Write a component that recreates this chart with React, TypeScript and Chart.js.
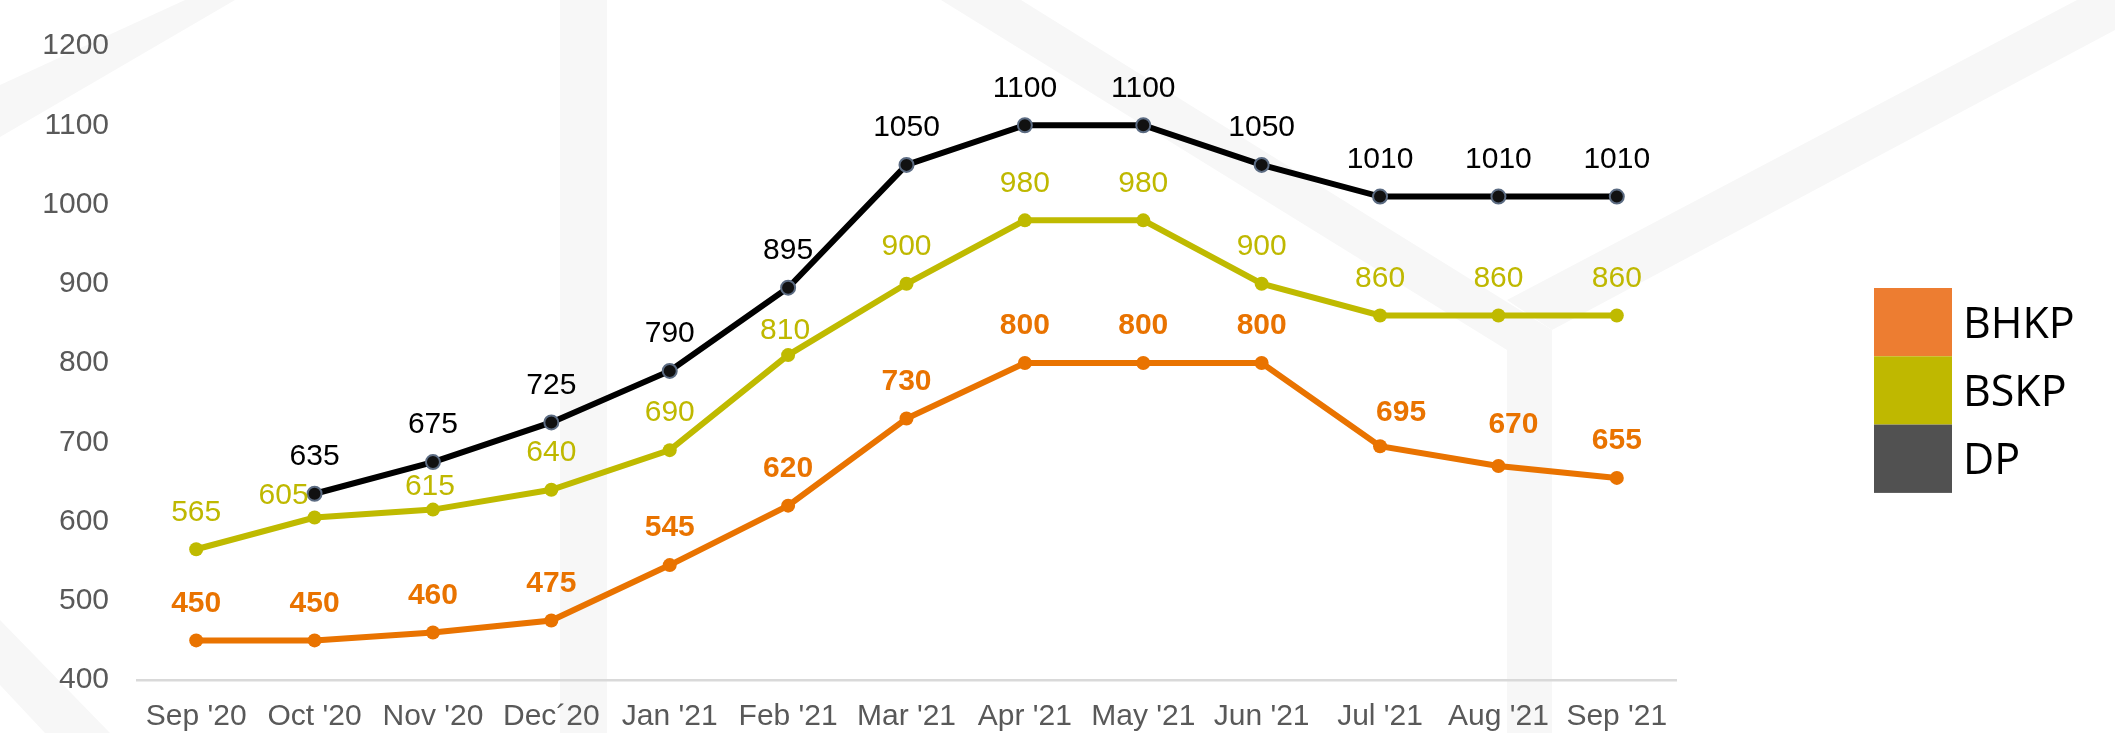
import React, { useEffect, useRef } from "react";
import { Chart, registerables } from "chart.js";

Chart.register(...registerables);

// ---- data ----
const categories = ["Sep '20", "Oct '20", "Nov '20", "Dec´20", "Jan '21", "Feb '21", "Mar '21", "Apr '21", "May '21", "Jun '21", "Jul '21", "Aug '21", "Sep '21"];
const bhkpValues = [450, 450, 460, 475, 545, 620, 730, 800, 800, 800, 695, 670, 655];
const bskpValues = [565, 605, 615, 640, 690, 810, 900, 980, 980, 900, 860, 860, 860];
const dpValues = [null, 635, 675, 725, 790, 895, 1050, 1100, 1100, 1050, 1010, 1010, 1010];
const seriesNames = ["BHKP", "BSKP", "DP"];
const yMin = 400;
const yMax = 1200;
const yStep = 100;

// ---- styles ----
const FONT = "'Liberation Sans', Arial, Helvetica, sans-serif";
const legendColors = ["#ED7D31", "#BFB800", "#515151"];
const lineColors = ["#E97300", "#BFBA00", "#000000"];
const labelColors = ["#E97300", "#BFB800", "#000000"];
const labelWeights = ["bold", "normal", "normal"];
// small nudges [dx, dy] for a few value labels (style only)
const labelNudges: Record<number, Record<number, [number, number]>> = {
  0: { 10: [21, 4], 11: [15, -4] },
  1: { 1: [-31, 15], 2: [-3, 14], 5: [-3, 13] },
  2: {},
};

const watermarkPlugin = {
  id: "watermark",
  beforeDraw(chart: any) {
    const ctx = chart.ctx;
    const shapes: number[][][] = [
      [[0, 85], [0, 137], [235, 0], [185, 0]],
      [[560, 0], [607, 0], [607, 733], [560, 733]],
      [[941, 0], [1021, 0], [1552, 330], [1552, 733], [1507, 733], [1507, 350]],
      [[1507, 300], [1552, 330], [2115, 30], [2115, -20]],
      [[0, 620], [0, 685], [45, 733], [110, 733]],
    ];
    ctx.save();
    ctx.fillStyle = "#f7f7f7";
    for (const s of shapes) {
      ctx.beginPath();
      s.forEach(([x, y], i) => (i ? ctx.lineTo(x, y) : ctx.moveTo(x, y)));
      ctx.closePath();
      ctx.fill();
    }
    ctx.restore();
  },
};

const valueLabelPlugin = {
  id: "valueLabels",
  afterDatasetsDraw(chart: any) {
    const ctx = chart.ctx;
    ctx.save();
    ctx.textAlign = "center";
    ctx.textBaseline = "middle";
    chart.data.datasets.forEach((ds: any, di: number) => {
      const meta = chart.getDatasetMeta(di);
      ctx.fillStyle = labelColors[di];
      ctx.font = `${labelWeights[di]} 30px ${FONT}`;
      meta.data.forEach((el: any, i: number) => {
        const v = ds.data[i];
        if (v === null || v === undefined) return;
        const [dx, dy] = labelNudges[di][i] || [0, 0];
        ctx.fillText(String(v), el.x + dx, el.y - 37 + dy);
      });
    });
    ctx.restore();
  },
};

const legendPlugin = {
  id: "boxLegend",
  afterDraw(chart: any) {
    const ctx = chart.ctx;
    const x0 = chart.chartArea.right + 198;
    const y0 = 288;
    const bw = 78;
    const bh = 68.3;
    ctx.save();
    chart.data.datasets.forEach((ds: any, i: number) => {
      const y = y0 + i * bh;
      ctx.fillStyle = legendColors[i];
      ctx.fillRect(x0, y, bw, bh);
      ctx.fillStyle = "#000000";
      ctx.font = `43px 'Open Sans', 'Noto Sans', sans-serif`;
      ctx.textAlign = "left";
      ctx.textBaseline = "alphabetic";
      ctx.fillText(ds.label, x0 + bw + 11, y + bh / 2 + 15.4);
    });
    ctx.restore();
  },
};

export default function App() {
  const ref = useRef<HTMLCanvasElement | null>(null);

  useEffect(() => {
    document.body.style.margin = "0";
    const canvas = ref.current!;
    const values = [bhkpValues, bskpValues, dpValues];
    const chart = new Chart(canvas, {
      type: "line",
      data: {
        labels: categories,
        datasets: values.map((vals, i) => ({
          label: seriesNames[i],
          data: vals,
          borderColor: lineColors[i],
          backgroundColor: i === 2 ? "#111111" : lineColors[i],
          pointBackgroundColor: i === 2 ? "#111111" : lineColors[i],
          pointBorderColor: i === 2 ? "#5B6B82" : lineColors[i],
          pointBorderWidth: i === 2 ? 2 : 0,
          pointRadius: 7,
          borderWidth: 6,
          tension: 0,
          fill: false,
        })),
      },
      options: {
        responsive: false,
        maintainAspectRatio: false,
        animation: false,
        layout: { padding: { top: 35, right: 439, bottom: 0, left: 0 } },
        plugins: {
          legend: { display: false },
          tooltip: { enabled: false },
        },
        scales: {
          x: {
            type: "category",
            offset: true,
            grid: { display: false, drawTicks: false },
            border: { display: true, color: "#d9d9d9", width: 2.5 },
            ticks: {
              color: "#595959",
              font: { size: 30, family: FONT },
              padding: 19,
              maxRotation: 0,
              autoSkip: false,
            },
            afterFit: (s: any) => {
              s.height = 53;
            },
          },
          y: {
            min: yMin,
            max: yMax,
            grid: { display: false, drawTicks: false },
            border: { display: false },
            ticks: {
              stepSize: yStep,
              color: "#595959",
              font: { size: 30, family: FONT },
              padding: 28,
              callback: (v: any) => String(v),
            },
            afterFit: (s: any) => {
              s.width = 137;
            },
          },
        },
      },
      plugins: [watermarkPlugin, valueLabelPlugin, legendPlugin],
    });
    return () => chart.destroy();
  }, []);

  return <canvas ref={ref} width={2115} height={733} style={{ display: "block" }} />;
}
